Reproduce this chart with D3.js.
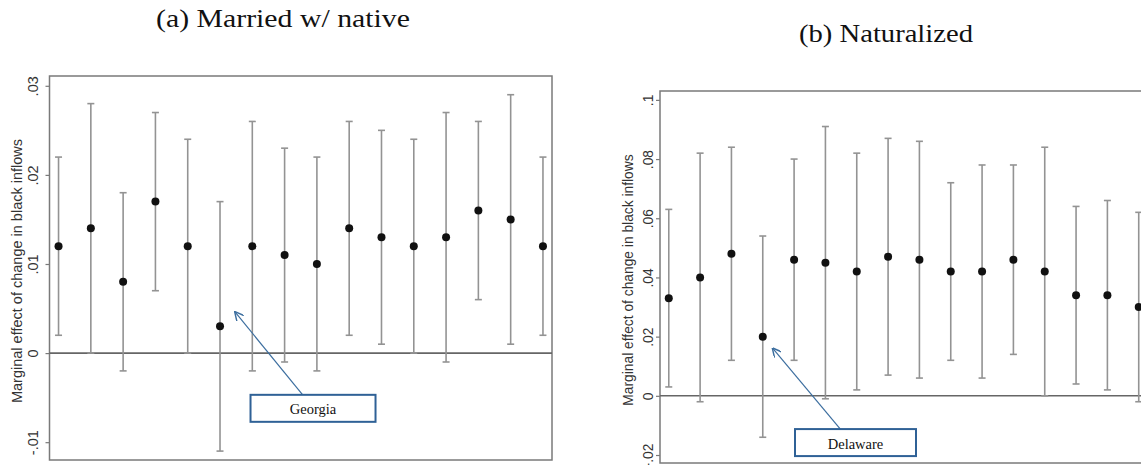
<!DOCTYPE html>
<html>
<head>
<meta charset="utf-8">
<script src="https://cdn.jsdelivr.net/npm/d3@7"></script>
<style>
  body { margin: 0; background: #fff; }
  svg { display: block; }
</style>
</head>
<body>
<div id="chart"></div>
<script>
// x slots (one per state, unlabeled in the figure)
const slots = [1, 2, 3, 4, 5, 6, 7, 8, 9, 10, 11, 12, 13, 14, 15, 16];

// (a) Married w/ native
const marriedEst = [0.012, 0.014, 0.008, 0.017, 0.012, 0.003, 0.012, 0.011, 0.010, 0.014, 0.013, 0.012, 0.013, 0.016, 0.015, 0.012];
const marriedLo  = [0.002, 0.000, -0.002, 0.007, 0.000, -0.011, -0.002, -0.001, -0.002, 0.002, 0.001, 0.000, -0.001, 0.006, 0.001, 0.002];
const marriedHi  = [0.022, 0.028, 0.018, 0.027, 0.024, 0.017, 0.026, 0.023, 0.022, 0.026, 0.025, 0.024, 0.027, 0.026, 0.029, 0.022];
const marriedTicks = [-0.01, 0, 0.01, 0.02, 0.03];

// (b) Naturalized
const naturalEst = [0.033, 0.040, 0.048, 0.020, 0.046, 0.045, 0.042, 0.047, 0.046, 0.042, 0.042, 0.046, 0.042, 0.034, 0.034, 0.030];
const naturalLo  = [0.003, -0.002, 0.012, -0.014, 0.012, -0.001, 0.002, 0.007, 0.006, 0.012, 0.006, 0.014, 0.000, 0.004, 0.002, -0.002];
const naturalHi  = [0.063, 0.082, 0.084, 0.054, 0.080, 0.091, 0.082, 0.087, 0.086, 0.072, 0.078, 0.078, 0.084, 0.064, 0.066, 0.062];
const naturalTicks = [-0.02, 0, 0.02, 0.04, 0.06, 0.08, 0.1];

const yTitle = "Marginal effect of change in black inflows";

const W = 1141, H = 465;
const svg = d3.select("#chart").append("svg")
    .attr("width", W)
    .attr("height", H);

// arrow head for the callouts
svg.append("defs").append("marker")
    .attr("id", "arrow")
    .attr("viewBox", "0 0 10 10")
    .attr("refX", 9)
    .attr("refY", 5)
    .attr("markerWidth", 9)
    .attr("markerHeight", 9)
    .attr("markerUnits", "userSpaceOnUse")
    .attr("orient", "auto")
  .append("path")
    .attr("d", "M0,0 L10,5 L0,10")
    .attr("fill", "none")
    .attr("stroke", "#3c6e9f")
    .attr("stroke-width", 1.6);

// Stata style labels: .03, -.01, 0
const stataFmt = v => v === 0 ? "0" : String(+v.toFixed(3)).replace(/^(-?)0\./, "$1.");

function drawPanel(p) {
    const x = d3.scaleLinear().domain([0.72, 16.28]).range([p.left, p.right]);
    const y = d3.scaleLinear().domain(p.yDomain).range([p.bottom, p.top]);
    const g = svg.append("g");

    // frame
    g.append("rect")
        .attr("x", p.left).attr("y", p.top)
        .attr("width", p.right - p.left).attr("height", p.bottom - p.top)
        .attr("fill", "none")
        .attr("stroke", "#7a7a7a")
        .attr("stroke-width", 1.5);

    // y axis, ticks outward, rotated labels
    const axis = g.append("g")
        .attr("transform", `translate(${p.left},0)`)
        .call(d3.axisLeft(y).tickValues(p.ticks).tickSize(4).tickFormat(stataFmt));
    axis.select(".domain").remove();
    axis.selectAll(".tick line").attr("stroke", "#7a7a7a").attr("stroke-width", 1.2);
    axis.selectAll(".tick text")
        .attr("x", null).attr("dy", null)
        .attr("transform", `translate(${p.labelX - p.left},0) rotate(-90)`)
        .attr("text-anchor", "middle")
        .attr("dominant-baseline", "central")
        .attr("fill", "#333")
        .style("font-family", "'Liberation Sans', Arial, sans-serif")
        .style("font-size", p.fontSize + "px");

    g.append("text")
        .attr("transform", `translate(${p.titleX},${(p.top + p.bottom) / 2 + 3}) rotate(-90)`)
        .attr("text-anchor", "middle")
        .attr("dominant-baseline", "central")
        .attr("fill", "#333")
        .style("font-family", "'Liberation Sans', Arial, sans-serif")
        .style("font-size", p.fontSize + "px")
        .text(yTitle);

    // zero line
    g.append("line")
        .attr("x1", p.left).attr("x2", p.right)
        .attr("y1", y(0)).attr("y2", y(0))
        .attr("stroke", "#666")
        .attr("stroke-width", 1.6);

    const rows = slots.map((s, i) => ({ s, est: p.est[i], lo: p.lo[i], hi: p.hi[i] }));

    // error bars
    const bars = g.append("g").attr("stroke", "#939393").attr("stroke-width", 1.6);
    bars.selectAll(".ci").data(rows).join("line")
        .attr("x1", d => x(d.s)).attr("x2", d => x(d.s))
        .attr("y1", d => y(d.lo)).attr("y2", d => y(d.hi));
    bars.selectAll(".caphi").data(rows).join("line")
        .attr("x1", d => x(d.s) - 3.5).attr("x2", d => x(d.s) + 3.5)
        .attr("y1", d => y(d.hi)).attr("y2", d => y(d.hi));
    bars.selectAll(".caplo").data(rows).join("line")
        .attr("x1", d => x(d.s) - 3.5).attr("x2", d => x(d.s) + 3.5)
        .attr("y1", d => y(d.lo)).attr("y2", d => y(d.lo));

    // point estimates
    g.append("g").selectAll("circle").data(rows).join("circle")
        .attr("cx", d => x(d.s))
        .attr("cy", d => y(d.est))
        .attr("r", 4)
        .attr("fill", "#111");

    // callout
    const c = p.callout;
    g.append("line")
        .attr("x1", x(c.tail[0])).attr("y1", y(c.tail[1]))
        .attr("x2", x(c.tip[0])).attr("y2", y(c.tip[1]))
        .attr("stroke", "#3c6e9f")
        .attr("stroke-width", 1.2)
        .attr("marker-end", "url(#arrow)");
    const bx = x(c.box[0]), by = y(c.box[1]);
    g.append("rect")
        .attr("x", bx - c.w / 2).attr("y", by - c.h / 2)
        .attr("width", c.w).attr("height", c.h)
        .attr("fill", "#fff")
        .attr("stroke", "#2f6196")
        .attr("stroke-width", 2);
    g.append("text")
        .attr("x", bx).attr("y", by + 1)
        .attr("text-anchor", "middle")
        .attr("dominant-baseline", "central")
        .attr("fill", "#111")
        .style("font-family", "'Liberation Serif', 'Times New Roman', serif")
        .style("font-size", "14.5px")
        .text(c.label);

    // subfigure caption (Computer Modern is wider than Times, so stretch to width)
    svg.append("text")
        .attr("x", p.capX).attr("y", p.capY)
        .attr("text-anchor", "middle")
        .attr("fill", "#111")
        .attr("textLength", p.capW)
        .attr("lengthAdjust", "spacingAndGlyphs")
        .style("font-family", "'Liberation Serif', 'Times New Roman', serif")
        .style("font-size", p.capSize + "px")
        .text(p.caption);
}

drawPanel({
    caption: "(a) Married w/ native", capX: 283, capY: 27, capW: 254, capSize: 25,
    left: 49.5, right: 552, top: 76, bottom: 460,
    yDomain: [-0.012, 0.0311], ticks: marriedTicks,
    labelX: 33, titleX: 17, fontSize: 14.5,
    est: marriedEst, lo: marriedLo, hi: marriedHi,
    callout: { label: "Georgia", tip: [6.47, 0.0046], tail: [8.56, -0.0047], box: [8.88, -0.0062], w: 125, h: 27 }
});

drawPanel({
    caption: "(b) Naturalized", capX: 886, capY: 42, capW: 174, capSize: 25,
    left: 660, right: 1147.5, top: 91, bottom: 463,
    yDomain: [-0.0227, 0.103], ticks: naturalTicks,
    labelX: 648, titleX: 628, fontSize: 13.8,
    est: naturalEst, lo: naturalLo, hi: naturalHi,
    callout: { label: "Delaware", tip: [4.32, 0.016], tail: [6.47, -0.0112], box: [6.96, -0.0158], w: 121, h: 27 }
});
</script>
</body>
</html>
